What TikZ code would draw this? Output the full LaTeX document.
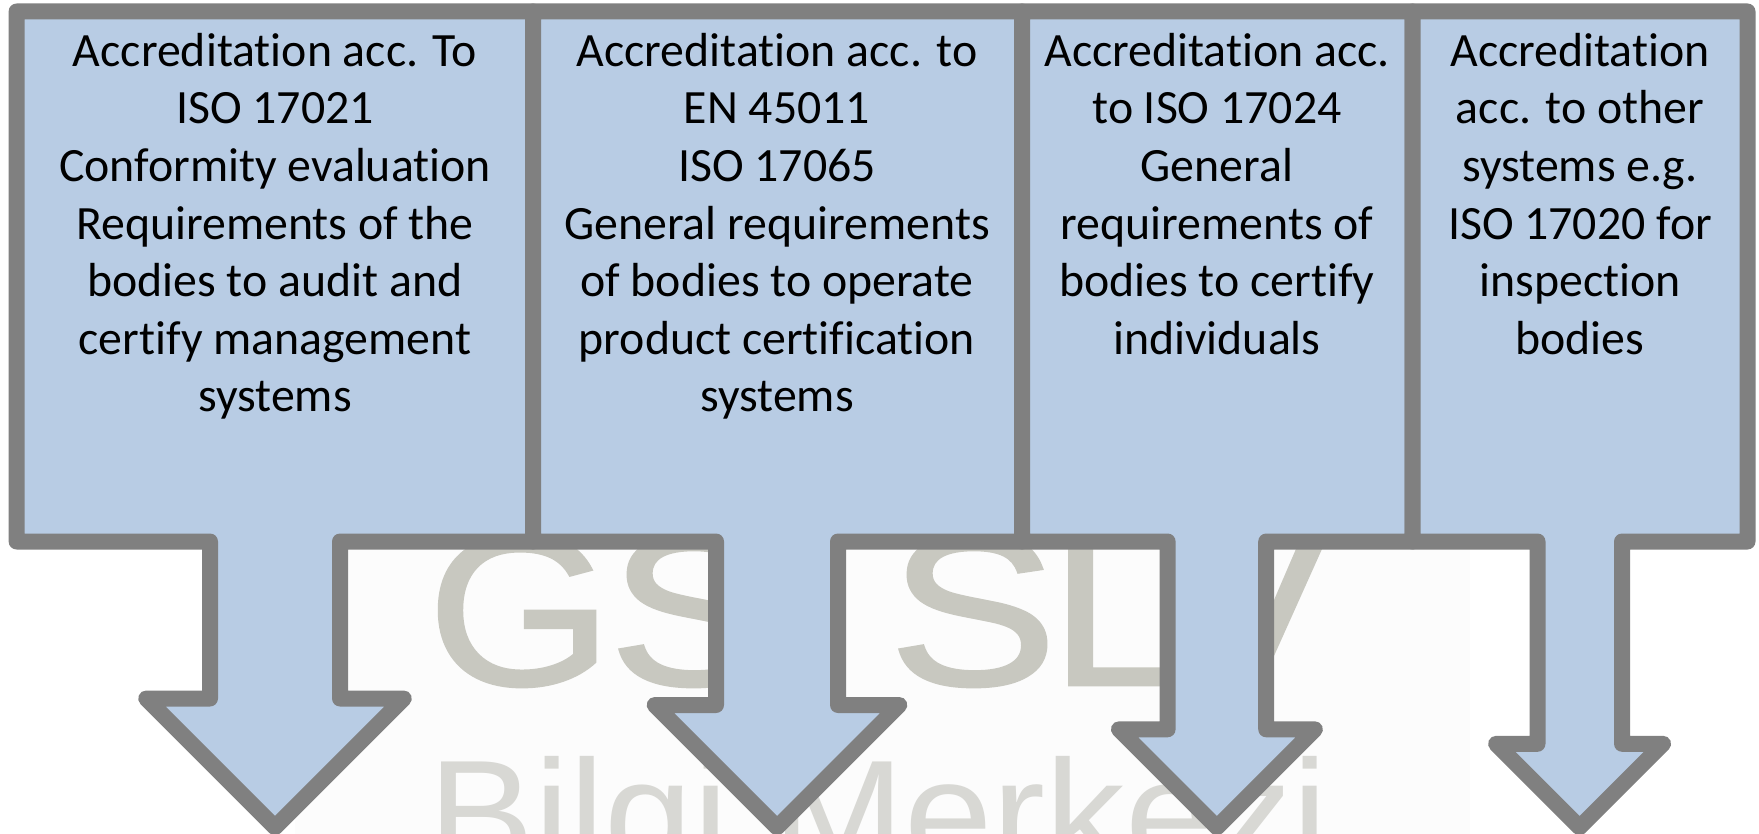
\documentclass[tikz,border=0pt]{standalone}
\usepackage{fontspec}
\setmainfont[Ligatures=NoCommon]{Carlito}
\newfontfamily\wmfont{Liberation Sans}
\newfontfamily\wmheavy[FakeBold=1.2]{Liberation Sans}
\definecolor{boxblue}{HTML}{B8CCE4}
\definecolor{boxgrey}{HTML}{808080}
\definecolor{wmdark}{HTML}{C8C8C0}
\definecolor{wmlight}{HTML}{D8D8D4}
\definecolor{panel}{HTML}{FCFCFC}
\tikzset{
  x=1pt,y=-1pt,
  arrowbox/.style={draw=boxgrey,fill=boxblue,line width=16pt,line join=round},
  boxlabel/.style={anchor=north,inner sep=0pt,align=center,text=black,font=\fontsize{47.8}{57.6}\selectfont},
  wmbig/.style={anchor=base,inner sep=0pt,text=wmdark,transform shape,font=\wmheavy\fontsize{215}{215}\selectfont},
  wmsmall/.style={anchor=base west,inner sep=0pt,text=wmlight,transform shape,xscale=1.045,font=\wmfont\fontsize{152}{152}\selectfont},
}
\begin{document}
\begin{tikzpicture}
\path[use as bounding box] (0,0) rectangle (1759,834);
\fill[white] (0,0) rectangle (1759,834);
\fill[panel] (295,500) rectangle (1470,834);
\node[wmbig,xscale=1.11] (wmA) at (520,685) {G};
\node[wmbig,xscale=1.18] (wmB) at (693,685) {S};
\node[wmbig,xscale=1.18] (wmC) at (973,685) {S};
\node[wmbig,xscale=1.1,anchor=base west] (wmD) at (1050,685) {L};
\node[wmbig,xscale=1.1] (wmE) at (1248,685) {V};
\node[wmsmall] (wmF) at (428,866) {Bilgi Merkezi};
\draw[arrowbox] (16.6,11.5) -- (533,11.5) -- (533,541.5) -- (340,541.5) -- (340,698.5) -- (403.8,698.5) -- (275,827.3) -- (146.2,698.5) -- (210,698.5) -- (210,541.5) -- (16.6,541.5) -- cycle;
\draw[arrowbox] (533,11.5) -- (1022,11.5) -- (1022,541.5) -- (838,541.5) -- (838,705) -- (899.3,705) -- (777,827.3) -- (654.7,705) -- (716,705) -- (716,541.5) -- (533,541.5) -- cycle;
\draw[arrowbox] (1022,11.5) -- (1412.5,11.5) -- (1412.5,541.5) -- (1266.2,541.5) -- (1266.2,729.3) -- (1314.9,729.3) -- (1216.9,827.3) -- (1118.9,729.3) -- (1167.6,729.3) -- (1167.6,541.5) -- (1022,541.5) -- cycle;
\draw[arrowbox] (1412.5,11.5) -- (1747.5,11.5) -- (1747.5,541.5) -- (1622,541.5) -- (1622,743.8) -- (1663.1,743.8) -- (1579.6,827.3) -- (1496.1,743.8) -- (1537.5,743.8) -- (1537.5,541.5) -- (1412.5,541.5) -- cycle;
\node[boxlabel] (t1) at (275,33) {Accreditation acc. To\\ISO 17021\\Conformity evaluation\\Requirements of the\\bodies to audit and\\certify management\\systems};
\node[boxlabel] (t2) at (777,33) {Accreditation acc. to\\EN 45011\\ISO 17065\\General requirements\\of bodies to operate\\product certification\\systems};
\node[boxlabel] (t3) at (1217,33) {Accreditation acc.\\to ISO 17024\\General\\requirements of\\bodies to certify\\individuals};
\node[boxlabel] (t4) at (1580,33) {Accreditation\\acc. to other\\systems e.g.\\ISO 17020 for\\inspection\\bodies};
\end{tikzpicture}
\end{document}
